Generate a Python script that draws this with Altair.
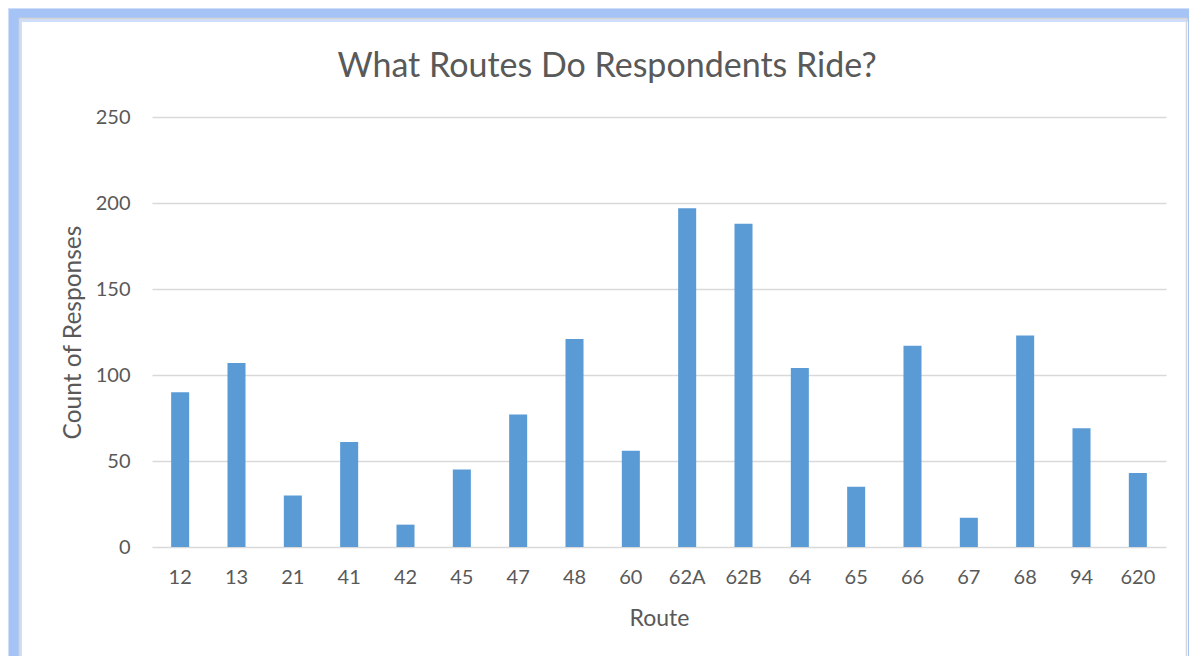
import altair as alt
import pandas as pd

routes = ["12", "13", "21", "41", "42", "45", "47", "48", "60", "62A", "62B",
          "64", "65", "66", "67", "68", "94", "620"]
counts = [90, 107, 30, 61, 13, 45, 77, 121, 56, 197, 188, 104, 35, 117, 17, 123, 69, 43]

df = pd.DataFrame({"Route": routes, "Count": counts})

FONT = "Lato"
GREY = "#595959"

bars = alt.Chart(df).mark_bar(color="#5b9bd5").encode(
    x=alt.X("Route:N", sort=routes,
            scale=alt.Scale(paddingInner=0.68, paddingOuter=0.34),
            axis=alt.Axis(title="Route", labelAngle=0, ticks=False, domain=False,
                          labelPadding=20, titlePadding=20, labelFontSize=20,
                          titleFontSize=23)),
    y=alt.Y("Count:Q", scale=alt.Scale(domain=[0, 250]),
            axis=alt.Axis(title="Count of Responses", values=[0, 50, 100, 150, 200, 250],
                          ticks=False, domain=False, labelPadding=22, titlePadding=10,
                          labelFontSize=20, titleFontSize=24.5,
                          gridColor="#d9d9d9", gridWidth=1.5)),
)

frame_data = alt.Data(values=[{"k": 1}])
glow = alt.Chart(frame_data).mark_rect(fillOpacity=0, stroke="#cfdefa", strokeWidth=18).encode(
    x=alt.value(-139), x2=alt.value(1050), y=alt.value(-104), y2=alt.value(600))
frame = alt.Chart(frame_data).mark_rect(fillOpacity=0, stroke="#a6c3f5", strokeWidth=10).encode(
    x=alt.value(-138), x2=alt.value(1041), y=alt.value(-103), y2=alt.value(600))
inner = alt.Chart(frame_data).mark_rect(fillOpacity=0, stroke="#d6d6d6", strokeWidth=1.5).encode(
    x=alt.value(-132.5), x2=alt.value(1034.5), y=alt.value(-98.5), y2=alt.value(600))

chart = alt.layer(bars, glow, frame, inner).properties(
    width=1014, height=430,
    title=alt.TitleParams("What Routes Do Respondents Ride?", fontSize=34, font=FONT,
                          fontWeight="normal", color=GREY, anchor="middle", dx=-52,
                          offset=-80),
    autosize=alt.AutoSizeParams(type="none"),
    padding={"left": 144, "top": 109, "right": 23, "bottom": 109},
).configure(background="white", font=FONT).configure_axis(
    labelColor=GREY, titleColor=GREY, labelFont=FONT, titleFont=FONT,
    titleFontWeight="normal", grid=True
).configure_axisX(grid=False).configure_view(stroke=None)

chart.save("out.html", embed_options={"renderer": "svg", "actions": False})
